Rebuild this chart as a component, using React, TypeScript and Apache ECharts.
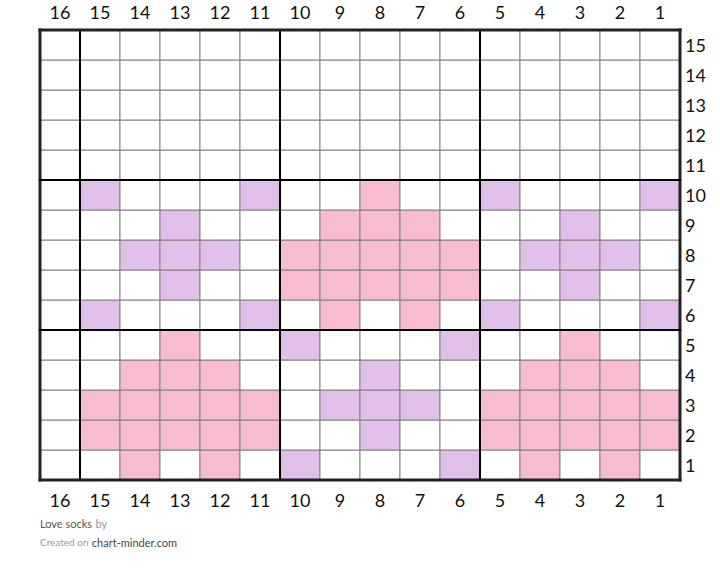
import React, { useEffect, useRef } from "react";
import * as echarts from "echarts";

const columnLabels = ["16", "15", "14", "13", "12", "11", "10", "9", "8", "7", "6", "5", "4", "3", "2", "1"];
const rowLabels = ["1", "2", "3", "4", "5", "6", "7", "8", "9", "10", "11", "12", "13", "14", "15"];

// [row, columns]
const pinkRows: [number, number[]][] = [
  [10, [8]],
  [9, [9, 8, 7]],
  [8, [10, 9, 8, 7, 6]],
  [7, [10, 9, 8, 7, 6]],
  [6, [9, 7]],
  [5, [13, 3]],
  [4, [14, 13, 12, 4, 3, 2]],
  [3, [15, 14, 13, 12, 11, 5, 4, 3, 2, 1]],
  [2, [15, 14, 13, 12, 11, 5, 4, 3, 2, 1]],
  [1, [14, 12, 4, 2]],
];
const lavenderRows: [number, number[]][] = [
  [10, [15, 11, 5, 1]],
  [9, [13, 3]],
  [8, [14, 13, 12, 4, 3, 2]],
  [7, [13, 3]],
  [6, [15, 11, 5, 1]],
  [5, [10, 6]],
  [4, [8]],
  [3, [9, 8, 7]],
  [2, [8]],
  [1, [10, 6]],
];
const colourNames = ["white", "pink", "lavender"];
const colours = ["#ffffff", "#f7bcd0", "#e0bfe8"];

// block boundaries (in cells from left / bottom)
const verticalBlocks = [0, 1, 6, 11, 16];
const horizontalBlocks = [0, 5, 10, 15];

function kindOf(row: number, col: number): number {
  for (const [r, cols] of pinkRows) if (r === row && cols.includes(col)) return 1;
  for (const [r, cols] of lavenderRows) if (r === row && cols.includes(col)) return 2;
  return 0;
}

export default function App() {
  const ref = useRef<HTMLDivElement>(null);
  useEffect(() => {
    if (!ref.current) return;
    const chart = echarts.init(ref.current, undefined, { renderer: "svg" });
    const cells: number[][] = [];
    rowLabels.forEach((rl, yi) => {
      columnLabels.forEach((cl, xi) => {
        cells.push([xi, yi, kindOf(Number(rl), Number(cl))]);
      });
    });
    const nCols = columnLabels.length;
    const nRows = rowLabels.length;
    const labelStyle = { fontSize: 18, color: "#111", fontFamily: "Lato" };
    chart.setOption({
      animation: false,
      grid: { left: 40, right: 40, top: 30, bottom: 93 },
      xAxis: [
        {
          type: "category",
          data: columnLabels,
          position: "bottom",
          axisLine: { show: false },
          axisTick: { show: false },
          splitLine: { show: false },
          axisLabel: { ...labelStyle, margin: 11 },
        },
        {
          type: "category",
          data: columnLabels,
          position: "top",
          axisLine: { show: false },
          axisTick: { show: false },
          splitLine: { show: false },
          axisLabel: { ...labelStyle, margin: 9 },
        },
      ],
      yAxis: {
        type: "category",
        data: rowLabels,
        position: "right",
        axisLine: { show: false },
        axisTick: { show: false },
        splitLine: { show: false },
        axisLabel: { ...labelStyle, margin: 5 },
      },
      series: [
        {
          type: "custom",
          name: "cells",
          xAxisIndex: 0,
          yAxisIndex: 0,
          data: cells,
          renderItem: (params: any, api: any) => {
            const c = api.coord([api.value(0), api.value(1)]);
            const s = api.size([1, 1]);
            const k = api.value(2);
            return {
              type: "rect",
              shape: { x: c[0] - s[0] / 2, y: c[1] - s[1] / 2, width: s[0], height: s[1] },
              style: { fill: colours[k], stroke: "#808080", lineWidth: 1 },
              name: colourNames[k],
            };
          },
        },
        {
          type: "custom",
          name: "blocks",
          xAxisIndex: 0,
          yAxisIndex: 0,
          z: 5,
          data: [[0, 0]],
          renderItem: (params: any, api: any) => {
            const o = api.coord([0, 0]);
            const s = api.size([1, 1]);
            const left = o[0] - s[0] / 2;
            const bottom = o[1] + s[1] / 2;
            const top = bottom - nRows * s[1];
            const right = left + nCols * s[0];
            const children: any[] = [];
            verticalBlocks.forEach((b) => {
              const outer = b === 0 || b === nCols;
              const x = left + b * s[0];
              children.push({
                type: "line",
                shape: { x1: x, y1: top, x2: x, y2: bottom },
                style: { stroke: outer ? "#222" : "#000", lineWidth: outer ? 3 : 2, lineCap: "square" },
              });
            });
            horizontalBlocks.forEach((b) => {
              const outer = b === 0 || b === nRows;
              const y = bottom - b * s[1];
              children.push({
                type: "line",
                shape: { x1: left, y1: y, x2: right, y2: y },
                style: { stroke: outer ? "#222" : "#000", lineWidth: outer ? 3 : 2, lineCap: "square" },
              });
            });
            return { type: "group", children };
          },
        },
      ],
      graphic: [
        {
          type: "text",
          left: 40,
          top: 517,
          style: {
            text: "{a|Love socks} {b|by}",
            rich: {
              a: { fontSize: 11, fontFamily: "Lato", fill: "#555" },
              b: { fontSize: 11, fontFamily: "Lato", fill: "#999" },
            },
          },
        },
        {
          type: "text",
          left: 40,
          top: 536,
          style: {
            text: "{b|Created on} {a|chart-minder.com}",
            rich: {
              a: { fontSize: 11, fontFamily: "Lato", fill: "#444" },
              b: { fontSize: 10, fontFamily: "Lato", fill: "#999" },
            },
          },
        },
      ],
    });
    return () => chart.dispose();
  }, []);
  return <div ref={ref} style={{ position: "absolute", left: 0, top: 0, width: 720, height: 573 }} />;
}
